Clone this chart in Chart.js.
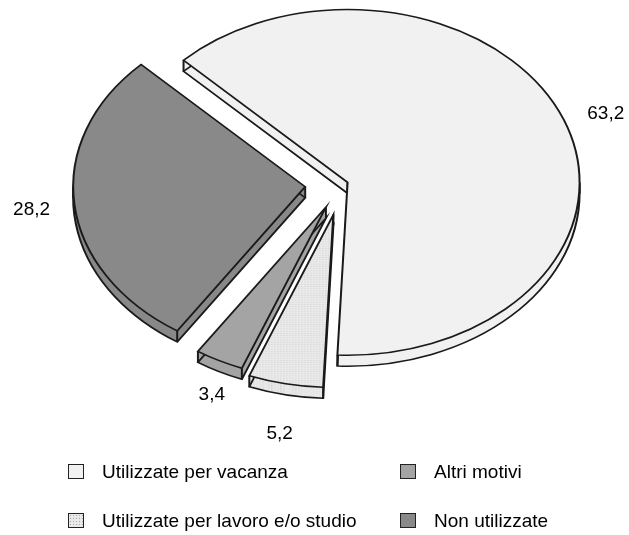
<!DOCTYPE html>
<html>
<head>
<meta charset="utf-8">
<script src="https://cdn.jsdelivr.net/npm/chart.js@4.4.0/dist/chart.umd.min.js"></script>
<style>
  html, body { margin: 0; padding: 0; background: #fff; }
  #wrap { position: relative; width: 629px; height: 535px; overflow: hidden; }
  #pie { position: absolute; left: 0; top: 0; }
  .leg { position: absolute; font: 19px "Liberation Sans", Arial, sans-serif; color: #000; white-space: nowrap; line-height: 20px; }
  .leg i { position: absolute; left: -34px; top: 2px; width: 14px; height: 13px; border: 1.6px solid #222; }
</style>
</head>
<body>
<div id="wrap">
  <canvas id="pie" width="629" height="535"></canvas>
</div>
<script>
const labels = ['Utilizzate per vacanza', 'Utilizzate per lavoro e/o studio', 'Altri motivi', 'Non utilizzate'];
const values = [63.2, 5.2, 3.4, 28.2];
const valueLabels = ['63,2', '5,2', '3,4', '28,2'];
const colors = ['#f1f1f1', '#e9e9e9', '#a4a4a4', '#898989'];

// legend, two columns
const legendPos = [[102, 462], [102, 511], [434, 462], [434, 511]];
labels.forEach((txt, i) => {
    const d = document.createElement('div');
    d.className = 'leg';
    d.style.left = legendPos[i][0] + 'px';
    d.style.top = legendPos[i][1] + 'px';
    const box = document.createElement('i');
    box.style.background = colors[i];
    if (i === 1) {
        box.style.background = 'radial-gradient(#aaa 0.6px, transparent 0.9px) 0 0/3px 3px, ' + colors[i];
    }
    d.appendChild(box);
    d.appendChild(document.createTextNode(txt));
    document.getElementById('wrap').appendChild(d);
});

// light stipple for the second slice
function stipple(base) {
    const c = document.createElement('canvas');
    c.width = 3; c.height = 3;
    const g = c.getContext('2d');
    g.fillStyle = base;
    g.fillRect(0, 0, 3, 3);
    g.fillStyle = '#cdcdcd';
    g.fillRect(1, 1, 1, 1);
    return g.createPattern(c, 'repeat');
}

const pie3d = {
    id: 'pie3d',
    beforeDatasetsDraw(chart, args, opts) {
        const ctx = chart.ctx;
        const arcs = chart.getDatasetMeta(0).data;
        const cx = arcs[0].x, cy = arcs[0].y;
        const k = opts.tilt, dz = opts.depth / opts.tilt;
        ctx.save();
        ctx.translate(cx, cy);
        ctx.scale(1, k);
        ctx.translate(-cx, -cy);

        const shift = arcs.map((a, i) => {
            const mid = (a.startAngle + a.endAngle) / 2;
            return [Math.cos(mid) * opts.explode[i], Math.sin(mid) * opts.explode[i]];
        });
        const wedge = a => {
            ctx.beginPath();
            ctx.moveTo(a.x, a.y);
            ctx.arc(a.x, a.y, a.outerRadius, a.startAngle, a.endAngle);
            ctx.closePath();
        };

        // sides first
        arcs.forEach((a, i) => {
            ctx.save();
            ctx.translate(shift[i][0], shift[i][1]);
            ctx.fillStyle = a.options.backgroundColor;
            for (let s = opts.depth; s > 0; s--) {
                ctx.save();
                ctx.translate(0, s / k);
                wedge(a);
                ctx.fill();
                ctx.restore();
            }
            ctx.strokeStyle = a.options.borderColor;
            ctx.lineWidth = a.options.borderWidth;
            ctx.lineJoin = 'miter';
            ctx.save();
            ctx.translate(0, dz);
            wedge(a);
            ctx.stroke();
            ctx.restore();

            const edges = [a.startAngle, a.endAngle];
            [-Math.PI, 0, Math.PI, 2 * Math.PI].forEach(t => {
                if (t > a.startAngle && t < a.endAngle) edges.push(t);
            });
            ctx.beginPath();
            ctx.moveTo(a.x, a.y);
            ctx.lineTo(a.x, a.y + dz);
            edges.forEach(t => {
                const x = a.x + Math.cos(t) * a.outerRadius;
                const y = a.y + Math.sin(t) * a.outerRadius;
                ctx.moveTo(x, y);
                ctx.lineTo(x, y + dz);
            });
            ctx.stroke();
            ctx.restore();
        });

        // tops
        arcs.forEach((a, i) => {
            ctx.save();
            ctx.translate(shift[i][0], shift[i][1]);
            a.draw(ctx);
            ctx.restore();
        });
        ctx.restore();
        return false;
    },
    afterDraw(chart, args, opts) {
        const ctx = chart.ctx;
        const arcs = chart.getDatasetMeta(0).data;
        const cx = arcs[0].x, cy = arcs[0].y;
        ctx.save();
        ctx.font = '19px "Liberation Sans", Arial, sans-serif';
        ctx.fillStyle = '#000';
        ctx.textAlign = 'center';
        ctx.textBaseline = 'middle';
        arcs.forEach((a, i) => {
            const mid = (a.startAngle + a.endAngle) / 2;
            const r = opts.explode[i] + a.outerRadius + opts.labelGap[i];
            const x = cx + Math.cos(mid) * r + opts.labelNudge[i][0];
            const y = cy + Math.sin(mid) * r * opts.tilt + opts.labelNudge[i][1];
            ctx.fillText(valueLabels[i], x, y);
        });
        ctx.restore();
    }
};

const ctx = document.getElementById('pie').getContext('2d');
const sliceColors = colors.map((c, i) => i === 1 ? stipple(c) : c);

new Chart(ctx, {
    type: 'pie',
    data: {
        labels: labels,
        datasets: [{
            data: values,
            backgroundColor: sliceColors,
            borderColor: '#1a1a1a',
            borderWidth: 2,
            borderJoinStyle: 'miter'
        }]
    },
    options: {
        responsive: false,
        animation: false,
        events: [],
        rotation: -45,
        radius: 232,
        layout: { padding: { left: 55, right: 0, top: 0, bottom: 167 } },
        plugins: {
            legend: { display: false },
            tooltip: { enabled: false },
            pie3d: {
                tilt: 0.745,
                depth: 11,
                explode: [6, 42, 35, 37],
                labelGap: [45, 58, 38, 43],
                labelNudge: [[0, 6], [6, 8], [10, 9], [0, 2]]
            }
        }
    },
    plugins: [pie3d]
});
</script>
</body>
</html>
